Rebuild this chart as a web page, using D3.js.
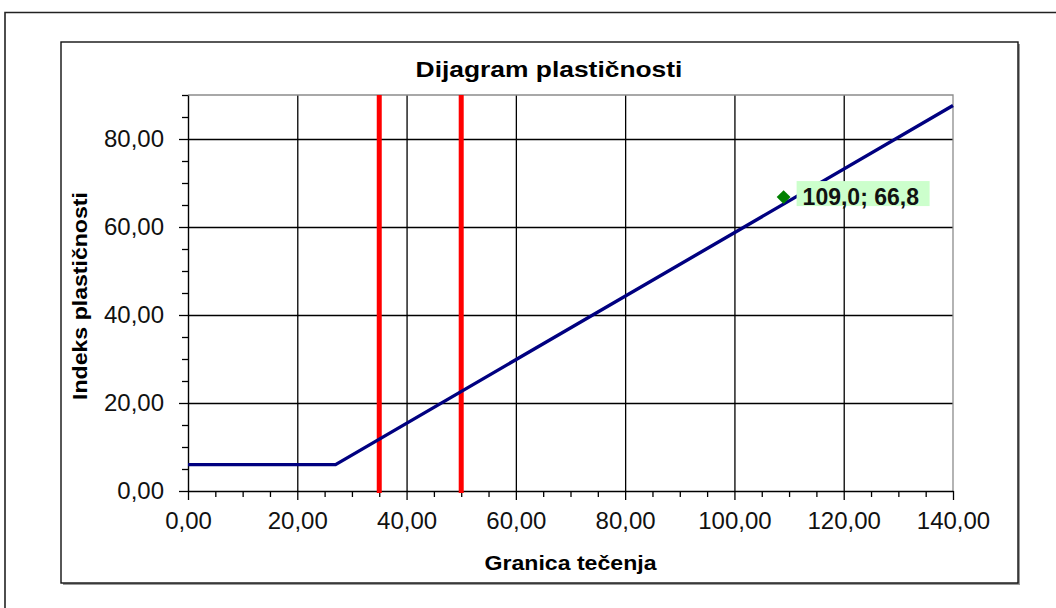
<!DOCTYPE html>
<html>
<head>
<meta charset="utf-8">
<script src="https://cdn.jsdelivr.net/npm/d3@7"></script>
<style>
  html, body { margin: 0; padding: 0; background: #fff; }
  svg { display: block; }
</style>
</head>
<body>
<svg id="chart" width="1056" height="608"></svg>
<script>
// A-line of the plasticity chart (liquid limit vs. plasticity index)
const aLineLL = [0, 27, 140];
const aLinePI = [6, 6, 87.6];
// Boundary liquid limits (low / intermediate / high plasticity)
const boundaryLL = [35, 50];
// Tested sample
const sampleLL = [109.0];
const samplePI = [66.8];
// Axis ticks
const xMajorTicks = [0, 20, 40, 60, 80, 100, 120, 140];
const yMajorTicks = [0, 20, 40, 60, 80];
const xMinorTicks = d3.range(0, 141, 5).filter(v => v % 20 !== 0);
const yMinorTicks = d3.range(0, 91, 5).filter(v => v % 20 !== 0);

const chartTitle = "Dijagram plastičnosti";
const xTitle = "Granica tečenja";
const yTitle = "Indeks plastičnosti";

const loc = d3.formatLocale({ decimal: ",", thousands: ".", grouping: [3], currency: ["", ""] });
const fmt2 = loc.format(".2f");
const fmt1 = loc.format(".1f");

const svg = d3.select("#chart");
const FONT = "Arial, 'Liberation Sans', sans-serif";

const plot = { left: 188, right: 953, top: 95, bottom: 491 };
const x = d3.scaleLinear().domain([0, 140]).range([plot.left, plot.right]);
const y = d3.scaleLinear().domain([0, 90]).range([plot.bottom, plot.top]);

// Outer page frame
svg.append("path")
  .attr("d", "M5,608 V12.5 H1056")
  .attr("fill", "none").attr("stroke", "#222").attr("stroke-width", 1.6);

// Chart area frame with a soft shadow
svg.append("rect")
  .attr("x", 63).attr("y", 44).attr("width", 957).attr("height", 541)
  .attr("fill", "#9a9a9a");
svg.append("rect")
  .attr("x", 61).attr("y", 42).attr("width", 957).attr("height", 541)
  .attr("fill", "#fff").attr("stroke", "#111").attr("stroke-width", 1.4);

// Gridlines
const gx = svg.append("g").attr("transform", `translate(0,${plot.bottom})`)
  .call(d3.axisBottom(x).tickValues(xMajorTicks.filter(v => v > 0 && v < 140))
    .tickSize(-(plot.bottom - plot.top)).tickFormat(""));
gx.select(".domain").remove();
gx.selectAll("line").attr("stroke", "#000").attr("stroke-width", 1.3);

const gy = svg.append("g").attr("transform", `translate(${plot.left},0)`)
  .call(d3.axisLeft(y).tickValues(yMajorTicks.filter(v => v > 0))
    .tickSize(-(plot.right - plot.left)).tickFormat(""));
gy.select(".domain").remove();
gy.selectAll("line").attr("stroke", "#000").attr("stroke-width", 1.3);

// Plot area border (top and right)
svg.append("path")
  .attr("d", `M${plot.left},${plot.top} H${plot.right} V${plot.bottom}`)
  .attr("fill", "none").attr("stroke", "#8c8c8c").attr("stroke-width", 1.3);

// Minor ticks
const mx = svg.append("g").attr("transform", `translate(0,${plot.bottom})`)
  .call(d3.axisBottom(x).tickValues(xMinorTicks).tickSize(6).tickSizeOuter(0).tickFormat(""));
mx.select(".domain").remove();
mx.selectAll("line").attr("stroke", "#000").attr("stroke-width", 1.3);

const my = svg.append("g").attr("transform", `translate(${plot.left},0)`)
  .call(d3.axisLeft(y).tickValues(yMinorTicks).tickSize(6).tickSizeOuter(0).tickFormat(""));
my.select(".domain").remove();
my.selectAll("line").attr("stroke", "#000").attr("stroke-width", 1.3);

// Main axes
const ax = svg.append("g").attr("transform", `translate(0,${plot.bottom})`)
  .call(d3.axisBottom(x).tickValues(xMajorTicks).tickSize(9).tickSizeOuter(0)
    .tickPadding(12).tickFormat(fmt2));
const ay = svg.append("g").attr("transform", `translate(${plot.left},0)`)
  .call(d3.axisLeft(y).tickValues(yMajorTicks).tickSize(9).tickSizeOuter(0)
    .tickPadding(15).tickFormat(fmt2));
[ax, ay].forEach(g => {
  g.select(".domain").attr("stroke", "#000").attr("stroke-width", 1.4);
  g.selectAll(".tick line").attr("stroke", "#000").attr("stroke-width", 1.3);
  g.selectAll(".tick text")
    .attr("font-family", FONT).attr("font-size", 24).attr("fill", "#111");
});

// Boundary lines
svg.append("g").selectAll("line").data(boundaryLL).join("line")
  .attr("x1", d => x(d)).attr("x2", d => x(d))
  .attr("y1", y(90)).attr("y2", plot.bottom + 2)
  .attr("stroke", "#ff0000").attr("stroke-width", 5);

// A-line
const pts = aLineLL.map((v, i) => [v, aLinePI[i]]);
svg.append("path")
  .datum(pts)
  .attr("d", d3.line().x(d => x(d[0])).y(d => y(d[1])))
  .attr("fill", "none").attr("stroke", "#000080").attr("stroke-width", 3.4)
  .attr("stroke-linejoin", "miter");

// Sample point with data label
const sample = sampleLL.map((v, i) => [v, samplePI[i]]);
const sg = svg.append("g");
sg.selectAll("path").data(sample).join("path")
  .attr("transform", d => `translate(${x(d[0])},${y(d[1])}) rotate(45)`)
  .attr("d", d3.symbol(d3.symbolSquare, 96))
  .attr("fill", "#008000");
const lab = sg.selectAll("g.lab").data(sample).join("g").attr("class", "lab")
  .attr("transform", d => `translate(${x(d[0]) + 13},${y(d[1])})`);
lab.append("rect")
  .attr("x", 0).attr("y", -16).attr("width", 133).attr("height", 25)
  .attr("fill", "#ccffcc");
lab.append("text")
  .attr("x", 6).attr("y", 7.5)
  .attr("font-family", FONT).attr("font-size", 23).attr("font-weight", "bold")
  .attr("fill", "#111")
  .text(d => `${fmt1(d[0])}; ${fmt1(d[1])}`);

// Titles
function stretchedText(tx, ty, rot, sx, size, str) {
  svg.append("text")
    .attr("transform", `translate(${tx},${ty}) rotate(${rot}) scale(${sx},1)`)
    .attr("text-anchor", "middle")
    .attr("font-family", FONT).attr("font-size", size).attr("font-weight", "bold")
    .attr("fill", "#000")
    .text(str);
}
stretchedText(549, 77, 0, 1.2, 22, chartTitle);
stretchedText((plot.left + plot.right) / 2, 570, 0, 1.1, 21, xTitle);
stretchedText(87, (plot.top + plot.bottom) / 2 + 3, -90, 1.1, 21, yTitle);
</script>
</body>
</html>
